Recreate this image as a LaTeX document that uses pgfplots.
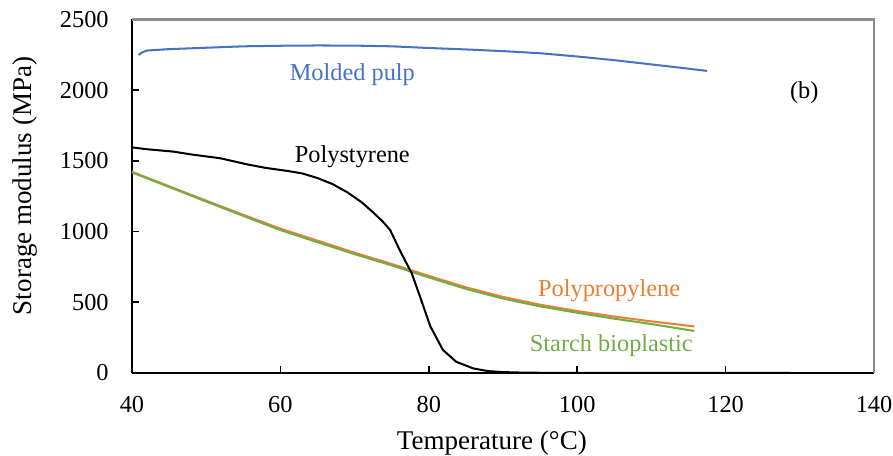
\documentclass[border=0pt]{standalone}
\usepackage{pgfplots}
\pgfplotsset{compat=1.18}
\usepackage{fontspec}
\setmainfont{Liberation Serif}
\definecolor{pulp}{HTML}{4472C4}
\definecolor{pp}{HTML}{ED7D31}
\definecolor{starch}{HTML}{70AD47}
\definecolor{frame}{HTML}{8C8C8C}
\begin{document}
\begin{tikzpicture}
\begin{axis}[
  name=ax,
  width=274.5pt, height=130.7pt, scale only axis,
  xmin=40, xmax=140, ymin=0, ymax=2500,
  xtick={40,60,...,140}, ytick={0,500,...,2500},
  axis x line*=bottom, axis y line*=left,
  axis line style={black, line width=0.7pt},
  tick align=inside, major tick length=2.7pt,
  tick style={black, line width=0.6pt},
  /pgf/number format/assume math mode=true,
  /pgf/number format/1000 sep={},
  ticklabel style={font=\fontsize{9}{11}\selectfont},
  xticklabel style={yshift=-5.1pt},
  yticklabel style={xshift=-5.1pt},
  xlabel={Temperature (°C)}, ylabel={Storage modulus (MPa)},
  label style={font=\fontsize{10}{12}\selectfont},
  xlabel style={at={(axis description cs:0.485,0)}, anchor=base, yshift=-28.5pt},
  ylabel style={at={(axis description cs:0,0.529)}, anchor=center, yshift=39.6pt},
  clip=false,
  every axis plot/.append style={line width=0.75pt},
]
% Molded pulp
\addplot[pulp] coordinates {
(40.9,2249) (41.3,2265) (42.0,2280) (45,2290) (50,2300) (55,2310) (60,2314)
(65,2316) (70,2315) (75,2310) (80,2298) (85,2288) (90,2276) (95,2261)
(100,2238) (105,2212) (110,2182) (114,2158) (117.5,2136)
};
% Polypropylene
\addplot[pp] coordinates {
(40,1423) (45,1320) (50,1218) (55,1118) (60,1020) (65,935) (70,850) (75,770)
(80,686) (85,605) (90,537) (95,482) (100,437) (105,398) (110,364) (115.8,328)
};
% Starch bioplastic
\addplot[starch] coordinates {
(40,1418) (45,1315) (50,1212) (55,1110) (60,1010) (65,924) (70,840) (75,760)
(80,675) (85,594) (90,525) (95,470) (100,425) (105,383) (110,345) (115.8,296)
};
% Polystyrene
\addplot[black] coordinates {
(40,1595) (42,1582) (45.6,1565) (48,1545) (51.9,1518) (55.5,1475) (58,1450)
(61,1428) (63,1410) (65,1378) (67,1336) (69,1278) (71,1205) (72.5,1135)
(73.8,1070) (74.8,1010) (76.1,866) (77.7,704) (78.8,542) (80.2,330) (81.9,162) (83.7,78)
(86,31) (88,12) (90,5) (93,1) (96,0) (128.7,0)
};
\node[pulp, anchor=base, font=\fontsize{9}{11}\selectfont] at (axis cs:69.7,2071) {Molded pulp};
\node[black, anchor=base, font=\fontsize{9}{11}\selectfont] at (axis cs:69.7,1490) {Polystyrene};
\node[pp, anchor=base, font=\fontsize{9}{11}\selectfont] at (axis cs:104.3,538) {Polypropylene};
\node[starch, anchor=base, font=\fontsize{9}{11}\selectfont] at (axis cs:104.6,149) {Starch bioplastic};
\node[black, anchor=base, font=\fontsize{9}{11}\selectfont] at (axis cs:130.6,1942) {(b)};
\end{axis}
\draw[frame, line width=0.8pt] (ax.north west) -- (ax.north east) -- (ax.south east);
\pgfresetboundingbox
\path ([shift={(-48.8pt,-30.5pt)}]ax.south west) rectangle ([shift={(7.0pt,7.2pt)}]ax.north east);
\end{tikzpicture}
\end{document}
